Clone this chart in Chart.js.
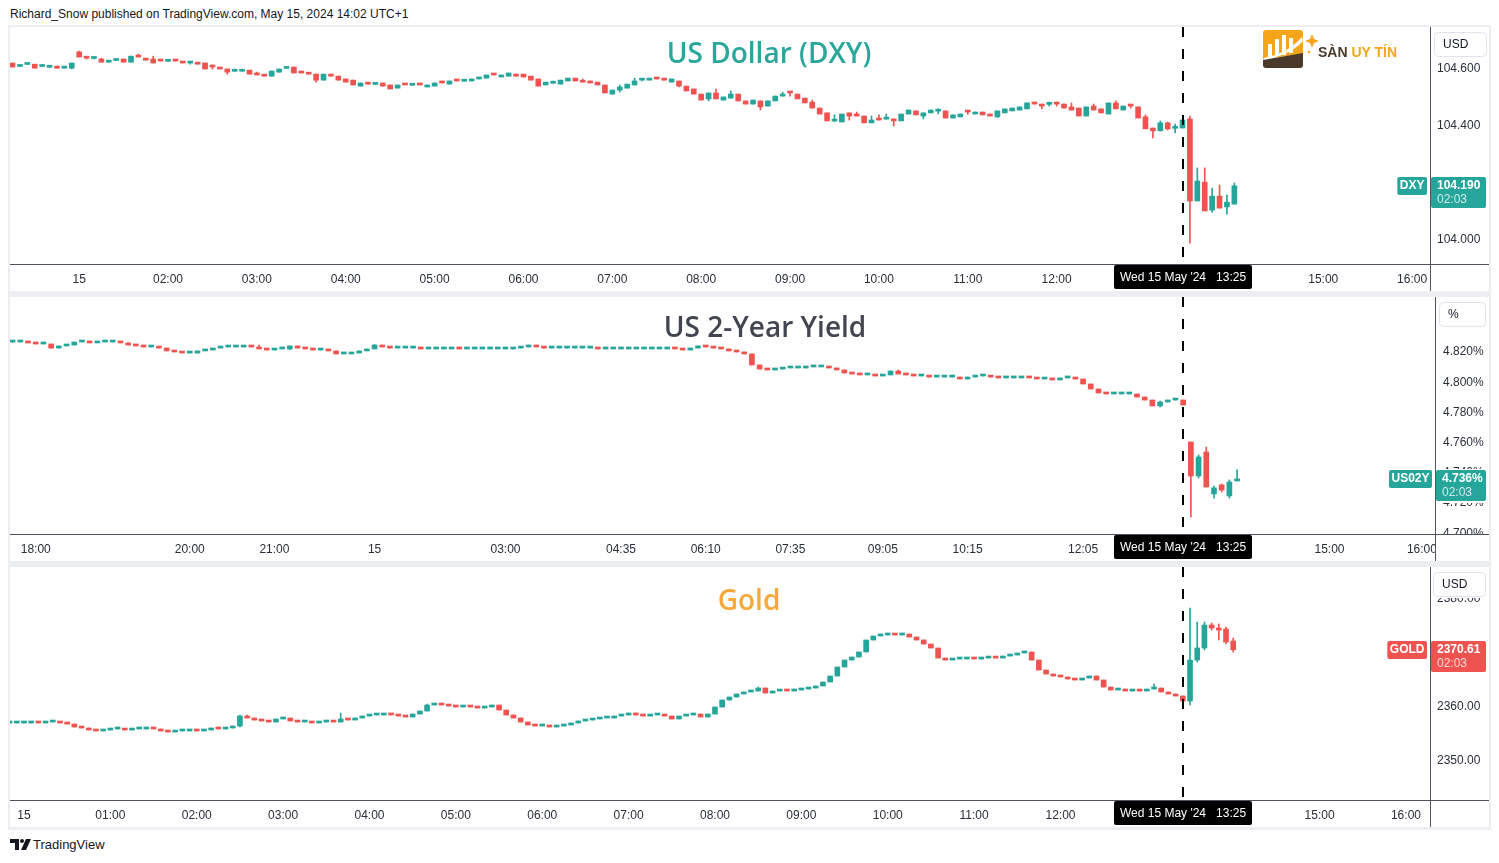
<!DOCTYPE html>
<html>
<head>
<meta charset="utf-8">
<script src="https://cdn.jsdelivr.net/npm/chart.js@4.4.1/dist/chart.umd.min.js"></script>
<style>
  html,body{margin:0;padding:0;background:#fff;}
  body{width:1499px;height:863px;position:relative;overflow:hidden;font-family:"Liberation Sans",Arial,sans-serif;}
  .abs{position:absolute;}
  canvas{position:absolute;background:#fff;}
  .title{position:absolute;transform:translate(-50%,-50%);font-family:"Open Sans",sans-serif;font-weight:600;font-size:28px;white-space:nowrap;line-height:1;}
</style>
</head>
<body>
<div class="abs" style="left:10px;top:7px;font-size:12px;line-height:14px;color:#131722;">Richard_Snow published on TradingView.com, May 15, 2024 14:02 UTC+1</div>
<div class="abs" style="left:8px;top:25px;width:1483px;height:805px;background:#eceef2;"></div>
<canvas id="c1" width="1479" height="264" style="left:10px;top:27px;"></canvas>
<canvas id="c2" width="1479" height="264" style="left:10px;top:297px;"></canvas>
<canvas id="c3" width="1479" height="260" style="left:10px;top:567px;"></canvas>

<div class="title" style="left:769px;top:52px;color:#2aa79b;">US Dollar (DXY)</div>
<div class="title" style="left:765px;top:326px;color:#434651;">US 2-Year Yield</div>
<div class="title" style="left:749px;top:599px;color:#f6a83b;">Gold</div>

<svg class="abs" style="left:1262px;top:29px" width="142" height="42" viewBox="0 0 142 42">
  <path d="M4 1H38a3 3 0 0 1 3 3V25L1 30V4a3 3 0 0 1 3-3z" fill="#f6a519"/>
  <rect x="6" y="15" width="4" height="13" fill="#fff"/>
  <rect x="13" y="10" width="4" height="17" fill="#fff"/>
  <rect x="20" y="6" width="4" height="20" fill="#fff"/>
  <rect x="27" y="9" width="4" height="15" fill="#fff"/>
  <path d="M2 29C14 26 28 22 40 8L41 12C30 24 16 28 2 31z" fill="#fff"/>
  <path d="M1 31L41 24V36a3 3 0 0 1-3 3H4a3 3 0 0 1-3-3z" fill="#4b3a2c"/>
  <path d="M50 5L52 10L57 12L52 14L50 19L48 14L43 12L48 10z" fill="#f6a519"/>
  <circle cx="47" cy="23" r="1.3" fill="#f6a519"/>
  <text x="56" y="28" font-family="Liberation Sans,Arial,sans-serif" font-weight="700" font-size="14" fill="#4b3a2c">SÀN <tspan fill="#f6a519">UY TÍN</tspan></text>
</svg>

<svg class="abs" style="left:10px;top:839px" width="22" height="12" viewBox="0 0 22 12">
  <path d="M0 0h9v11H5V4H0z" fill="#131722"/>
  <circle cx="12" cy="2" r="2" fill="#131722"/>
  <path d="M16 0h5l-5 11h-5z" fill="#131722"/>
</svg>
<div class="abs" style="left:33px;top:837px;font-size:13px;line-height:16px;color:#131722;">TradingView</div>

<script>
// ---------------- DATA ----------------
// 5-minute candles, [open, high, low, close]
const dxyFirstBar = "00:15";
const dxyCandles = [
 [104.621,104.621,104.607,104.607],[104.609,104.610,104.609,104.610],[104.616,104.617,104.616,104.617],[104.617,104.617,104.603,104.603],[104.609,104.610,104.609,104.610],[104.606,104.607,104.606,104.607],[104.610,104.610,104.603,104.603],[104.603,104.607,104.603,104.604],[104.603,104.621,104.600,104.621],[104.660,104.663,104.642,104.642],
 [104.642,104.642,104.635,104.638],[104.637,104.638,104.635,104.638],[104.635,104.638,104.624,104.624],[104.624,104.631,104.624,104.631],[104.630,104.631,104.630,104.631],[104.635,104.635,104.624,104.624],[104.624,104.645,104.624,104.645],[104.649,104.652,104.642,104.642],[104.638,104.638,104.631,104.631],[104.635,104.645,104.621,104.621],
 [104.629,104.629,104.628,104.628],[104.627,104.628,104.627,104.628],[104.629,104.629,104.628,104.628],[104.624,104.625,104.621,104.621],[104.621,104.624,104.617,104.624],[104.624,104.624,104.617,104.617],[104.621,104.621,104.600,104.600],[104.608,104.614,104.600,104.607],[104.603,104.603,104.600,104.600],[104.600,104.600,104.582,104.589],
 [104.592,104.600,104.592,104.593],[104.592,104.593,104.592,104.593],[104.596,104.596,104.582,104.582],[104.582,104.589,104.579,104.579],[104.579,104.579,104.575,104.575],[104.575,104.593,104.575,104.593],[104.589,104.600,104.589,104.600],[104.602,104.603,104.602,104.603],[104.607,104.607,104.586,104.586],[104.589,104.589,104.586,104.586],
 [104.586,104.586,104.582,104.582],[104.582,104.582,104.554,104.561],[104.561,104.582,104.561,104.582],[104.582,104.582,104.575,104.575],[104.575,104.575,104.561,104.561],[104.565,104.565,104.554,104.554],[104.561,104.561,104.544,104.544],[104.540,104.551,104.540,104.551],[104.548,104.548,104.547,104.547],[104.546,104.547,104.546,104.547],
 [104.551,104.551,104.540,104.540],[104.544,104.544,104.530,104.530],[104.533,104.544,104.533,104.544],[104.545,104.545,104.544,104.544],[104.543,104.544,104.543,104.544],[104.545,104.545,104.544,104.544],[104.537,104.544,104.537,104.544],[104.540,104.551,104.540,104.551],[104.552,104.558,104.551,104.551],[104.547,104.558,104.547,104.558],
 [104.559,104.559,104.558,104.558],[104.557,104.558,104.557,104.558],[104.558,104.565,104.558,104.565],[104.565,104.572,104.565,104.572],[104.568,104.579,104.568,104.579],[104.580,104.580,104.579,104.579],[104.572,104.579,104.572,104.579],[104.575,104.586,104.575,104.586],[104.582,104.582,104.575,104.575],[104.582,104.582,104.572,104.572],
 [104.575,104.575,104.561,104.561],[104.565,104.565,104.540,104.540],[104.544,104.554,104.544,104.554],[104.550,104.558,104.550,104.551],[104.547,104.561,104.547,104.561],[104.558,104.568,104.558,104.568],[104.568,104.568,104.558,104.558],[104.558,104.565,104.554,104.554],[104.558,104.558,104.551,104.551],[104.554,104.554,104.544,104.544],
 [104.544,104.544,104.516,104.516],[104.512,104.526,104.512,104.526],[104.526,104.544,104.519,104.537],[104.533,104.547,104.533,104.547],[104.544,104.568,104.544,104.558],[104.561,104.565,104.558,104.562],[104.561,104.568,104.561,104.562],[104.566,104.566,104.565,104.565],[104.562,104.568,104.561,104.561],[104.554,104.565,104.554,104.565],
 [104.558,104.558,104.537,104.540],[104.540,104.540,104.523,104.523],[104.530,104.530,104.512,104.512],[104.512,104.512,104.491,104.491],[104.495,104.516,104.488,104.516],[104.516,104.530,104.495,104.495],[104.491,104.502,104.491,104.502],[104.498,104.523,104.498,104.512],[104.512,104.512,104.488,104.488],[104.488,104.488,104.477,104.477],
 [104.477,104.491,104.477,104.491],[104.488,104.488,104.456,104.467],[104.470,104.488,104.470,104.488],[104.488,104.505,104.488,104.505],[104.505,104.519,104.505,104.512],[104.517,104.519,104.505,104.516],[104.512,104.512,104.495,104.495],[104.498,104.498,104.481,104.481],[104.484,104.491,104.463,104.463],[104.463,104.463,104.442,104.442],
 [104.446,104.446,104.418,104.418],[104.417,104.439,104.417,104.418],[104.414,104.442,104.414,104.442],[104.446,104.446,104.421,104.435],[104.436,104.449,104.435,104.435],[104.435,104.435,104.411,104.411],[104.411,104.435,104.411,104.421],[104.422,104.439,104.421,104.421],[104.424,104.442,104.424,104.425],[104.425,104.425,104.400,104.418],
 [104.418,104.442,104.418,104.442],[104.442,104.456,104.442,104.456],[104.453,104.453,104.439,104.439],[104.435,104.446,104.425,104.446],[104.446,104.456,104.446,104.456],[104.452,104.460,104.442,104.453],[104.453,104.453,104.428,104.428],[104.428,104.439,104.428,104.439],[104.432,104.442,104.432,104.442],[104.450,104.450,104.441,104.449],
 [104.442,104.449,104.442,104.449],[104.449,104.449,104.439,104.439],[104.436,104.442,104.435,104.435],[104.432,104.453,104.430,104.453],[104.446,104.460,104.446,104.460],[104.453,104.463,104.453,104.463],[104.456,104.467,104.456,104.467],[104.460,104.481,104.460,104.481],[104.484,104.484,104.477,104.477],[104.477,104.477,104.460,104.470],
 [104.476,104.484,104.470,104.477],[104.478,104.484,104.470,104.477],[104.477,104.477,104.463,104.463],[104.467,104.481,104.456,104.456],[104.463,104.463,104.435,104.435],[104.435,104.467,104.435,104.467],[104.470,104.477,104.456,104.456],[104.460,104.460,104.446,104.446],[104.442,104.481,104.442,104.481],[104.481,104.488,104.460,104.460],
 [104.456,104.470,104.456,104.470],[104.471,104.477,104.463,104.470],[104.467,104.467,104.428,104.428],[104.432,104.439,104.390,104.390],[104.393,104.393,104.358,104.383],[104.383,104.418,104.383,104.411],[104.411,104.414,104.386,104.390],[104.392,104.407,104.376,104.393],[104.393,104.421,104.393,104.421],[104.425,104.435,103.989,104.137],
 [104.137,104.253,104.137,104.207],[104.203,104.253,104.102,104.102],[104.105,104.182,104.098,104.154],[104.154,104.193,104.112,104.112],[104.116,104.158,104.091,104.133],[104.126,104.200,104.126,104.190]
];
const dxyTickTimes  = ["01:00","02:00","03:00","04:00","05:00","06:00","07:00","08:00","09:00","10:00","11:00","12:00","15:00","16:00"];
const dxyTickLabels = ["15","02:00","03:00","04:00","05:00","06:00","07:00","08:00","09:00","10:00","11:00","12:00","15:00","16:00"];
const dxyPriceTicks = [104.0, 104.2, 104.4, 104.6];

// US 2-year yield (%), bars on a session-compressed axis (bar index)
const us2yCandles = [
 [4.8266,4.8270,4.8263,4.8266],[4.8266,4.8266,4.8266,4.8266],[4.8266,4.8266,4.8260,4.8260],[4.8260,4.8260,4.8253,4.8253],[4.8253,4.8253,4.8253,4.8253],[4.8253,4.8253,4.8226,4.8226],[4.8226,4.8240,4.8226,4.8240],[4.8240,4.8246,4.8240,4.8246],[4.8246,4.8266,4.8246,4.8266],[4.8266,4.8266,4.8266,4.8266],
 [4.8266,4.8266,4.8260,4.8260],[4.8260,4.8266,4.8260,4.8266],[4.8266,4.8266,4.8266,4.8266],[4.8266,4.8266,4.8266,4.8266],[4.8266,4.8266,4.8260,4.8260],[4.8260,4.8260,4.8246,4.8246],[4.8246,4.8246,4.8240,4.8240],[4.8240,4.8240,4.8233,4.8233],[4.8233,4.8233,4.8233,4.8233],[4.8233,4.8233,4.8226,4.8226],
 [4.8226,4.8226,4.8207,4.8207],[4.8207,4.8207,4.8200,4.8200],[4.8200,4.8200,4.8193,4.8193],[4.8193,4.8193,4.8193,4.8193],[4.8193,4.8207,4.8193,4.8207],[4.8207,4.8213,4.8207,4.8213],[4.8213,4.8226,4.8213,4.8226],[4.8226,4.8233,4.8226,4.8233],[4.8233,4.8233,4.8233,4.8233],[4.8233,4.8233,4.8233,4.8233],
 [4.8233,4.8240,4.8233,4.8240],[4.8240,4.8240,4.8233,4.8233],[4.8233,4.8246,4.8220,4.8220],[4.8220,4.8220,4.8213,4.8213],[4.8213,4.8220,4.8213,4.8220],[4.8220,4.8220,4.8220,4.8220],[4.8220,4.8240,4.8216,4.8240],[4.8240,4.8240,4.8226,4.8226],[4.8226,4.8226,4.8220,4.8220],[4.8220,4.8220,4.8213,4.8213],
 [4.8213,4.8213,4.8213,4.8213],[4.8213,4.8213,4.8207,4.8207],[4.8207,4.8207,4.8187,4.8187],[4.8187,4.8187,4.8187,4.8187],[4.8187,4.8193,4.8187,4.8193],[4.8193,4.8207,4.8193,4.8207],[4.8207,4.8220,4.8207,4.8220],[4.8220,4.8250,4.8220,4.8246],[4.8246,4.8246,4.8233,4.8233],[4.8233,4.8233,4.8226,4.8226],
 [4.8226,4.8226,4.8226,4.8226],[4.8226,4.8226,4.8226,4.8226],[4.8226,4.8226,4.8226,4.8226],[4.8226,4.8226,4.8220,4.8220],[4.8220,4.8220,4.8220,4.8220],[4.8220,4.8220,4.8220,4.8220],[4.8220,4.8220,4.8220,4.8220],[4.8220,4.8226,4.8220,4.8226],[4.8226,4.8226,4.8220,4.8220],[4.8220,4.8220,4.8220,4.8220],
 [4.8220,4.8220,4.8220,4.8220],[4.8220,4.8220,4.8220,4.8220],[4.8220,4.8220,4.8220,4.8220],[4.8220,4.8220,4.8220,4.8220],[4.8220,4.8220,4.8220,4.8220],[4.8220,4.8226,4.8220,4.8226],[4.8226,4.8233,4.8226,4.8233],[4.8233,4.8246,4.8233,4.8246],[4.8246,4.8246,4.8233,4.8233],[4.8233,4.8233,4.8226,4.8226],
 [4.8226,4.8226,4.8226,4.8226],[4.8226,4.8226,4.8226,4.8226],[4.8226,4.8226,4.8226,4.8226],[4.8226,4.8226,4.8226,4.8226],[4.8226,4.8226,4.8226,4.8226],[4.8226,4.8226,4.8226,4.8226],[4.8226,4.8226,4.8220,4.8220],[4.8220,4.8220,4.8220,4.8220],[4.8220,4.8220,4.8220,4.8220],[4.8220,4.8220,4.8220,4.8220],
 [4.8220,4.8220,4.8220,4.8220],[4.8220,4.8220,4.8220,4.8220],[4.8220,4.8220,4.8220,4.8220],[4.8220,4.8220,4.8220,4.8220],[4.8220,4.8220,4.8220,4.8220],[4.8220,4.8226,4.8220,4.8226],[4.8226,4.8226,4.8220,4.8220],[4.8220,4.8220,4.8213,4.8213],[4.8213,4.8226,4.8213,4.8226],[4.8226,4.8240,4.8226,4.8240],
 [4.8240,4.8240,4.8233,4.8233],[4.8233,4.8233,4.8226,4.8226],[4.8226,4.8226,4.8220,4.8220],[4.8220,4.8220,4.8207,4.8207],[4.8207,4.8207,4.8200,4.8200],[4.8200,4.8200,4.8187,4.8187],[4.8187,4.8187,4.8114,4.8114],[4.8114,4.8114,4.8087,4.8087],[4.8087,4.8087,4.8081,4.8081],[4.8081,4.8087,4.8081,4.8087],
 [4.8087,4.8094,4.8087,4.8094],[4.8094,4.8094,4.8094,4.8094],[4.8094,4.8094,4.8094,4.8094],[4.8094,4.8101,4.8094,4.8101],[4.8101,4.8101,4.8101,4.8101],[4.8101,4.8101,4.8101,4.8101],[4.8101,4.8101,4.8094,4.8094],[4.8094,4.8094,4.8081,4.8081],[4.8081,4.8081,4.8061,4.8061],[4.8061,4.8061,4.8054,4.8054],
 [4.8054,4.8054,4.8048,4.8048],[4.8048,4.8048,4.8048,4.8048],[4.8048,4.8048,4.8041,4.8041],[4.8041,4.8048,4.8041,4.8048],[4.8048,4.8074,4.8048,4.8074],[4.8074,4.8081,4.8054,4.8054],[4.8054,4.8054,4.8048,4.8048],[4.8048,4.8048,4.8041,4.8041],[4.8041,4.8041,4.8041,4.8041],[4.8041,4.8041,4.8034,4.8034],
 [4.8034,4.8034,4.8034,4.8034],[4.8034,4.8034,4.8034,4.8034],[4.8034,4.8034,4.8034,4.8034],[4.8034,4.8034,4.8021,4.8021],[4.8021,4.8034,4.8021,4.8034],[4.8034,4.8041,4.8034,4.8041],[4.8041,4.8041,4.8041,4.8041],[4.8041,4.8041,4.8034,4.8034],[4.8034,4.8034,4.8028,4.8028],[4.8028,4.8028,4.8028,4.8028],
 [4.8028,4.8028,4.8028,4.8028],[4.8028,4.8034,4.8028,4.8034],[4.8034,4.8034,4.8028,4.8028],[4.8028,4.8028,4.8021,4.8021],[4.8021,4.8021,4.8021,4.8021],[4.8021,4.8021,4.8015,4.8015],[4.8015,4.8028,4.8015,4.8028],[4.8028,4.8028,4.8028,4.8028],[4.8028,4.8028,4.8021,4.8021],[4.8021,4.8021,4.7988,4.7988],
 [4.7988,4.7988,4.7955,4.7955],[4.7955,4.7955,4.7929,4.7929],[4.7929,4.7929,4.7922,4.7922],[4.7922,4.7922,4.7922,4.7922],[4.7922,4.7922,4.7922,4.7922],[4.7922,4.7922,4.7922,4.7922],[4.7922,4.7922,4.7902,4.7902],[4.7902,4.7902,4.7882,4.7882],[4.7882,4.7882,4.7843,4.7843],[4.7843,4.7875,4.7836,4.7869],
 [4.7869,4.7882,4.7869,4.7882],[4.7882,4.7882,4.7882,4.7882],[4.7882,4.7882,4.7849,4.7849],[4.7604,4.7604,4.7108,4.7379],[4.7379,4.7518,4.7366,4.7505],[4.7538,4.7571,4.7306,4.7306],[4.7260,4.7313,4.7233,4.7300],[4.7320,4.7326,4.7273,4.7286],[4.7247,4.7353,4.7233,4.7339],[4.7346,4.7419,4.7346,4.7360]
];
const us2yTickBars   = [3, 23, 34, 47, 64, 79, 90, 101, 113, 124, 139, 171, 183];
const us2yTickLabels = ["18:00","20:00","21:00","15","03:00","04:35","06:10","07:35","09:05","10:15","12:05","15:00","16:00"];
const us2yPriceTicks = [4.70, 4.72, 4.74, 4.76, 4.78, 4.80, 4.82];
const us2yCrossBar = 152;

const goldFirstBar = "-00:10"; // 23:50 on 14 May
const goldCandles = [
 [2357.04,2357.22,2356.85,2357.04],[2357.04,2357.04,2357.04,2357.04],[2357.04,2357.13,2357.04,2357.04],[2357.04,2357.22,2357.04,2357.22],[2357.22,2357.22,2357.04,2357.04],[2357.04,2357.22,2357.04,2357.22],[2357.22,2357.30,2357.22,2357.22],[2357.22,2357.22,2357.04,2357.04],[2357.04,2357.04,2356.85,2356.85],[2356.85,2356.85,2356.30,2356.30],
 [2356.30,2356.30,2356.11,2356.11],[2356.11,2356.11,2355.74,2355.74],[2355.74,2355.74,2355.56,2355.56],[2355.56,2355.74,2355.56,2355.74],[2355.74,2355.93,2355.74,2355.93],[2355.93,2356.00,2355.93,2355.93],[2355.93,2355.93,2355.74,2355.74],[2355.74,2355.93,2355.74,2355.93],[2355.93,2355.93,2355.93,2355.93],[2355.93,2356.11,2355.93,2356.11],
 [2356.11,2356.11,2355.93,2355.93],[2355.93,2355.93,2355.56,2355.56],[2355.56,2355.56,2355.37,2355.37],[2355.37,2355.56,2355.37,2355.56],[2355.56,2355.56,2355.56,2355.56],[2355.56,2355.74,2355.56,2355.74],[2355.74,2355.74,2355.56,2355.56],[2355.56,2355.74,2355.56,2355.74],[2355.74,2356.11,2355.74,2356.11],[2356.11,2356.11,2355.93,2355.93],
 [2355.93,2356.11,2355.93,2356.11],[2356.11,2356.48,2356.11,2356.48],[2356.48,2358.52,2356.30,2358.33],[2358.33,2358.52,2357.96,2357.96],[2357.96,2357.96,2357.59,2357.59],[2357.59,2357.59,2357.41,2357.41],[2357.41,2357.41,2357.22,2357.22],[2357.22,2357.78,2357.22,2357.78],[2357.78,2357.96,2357.78,2357.96],[2357.96,2357.96,2357.41,2357.41],
 [2357.41,2357.41,2357.22,2357.22],[2357.22,2357.30,2357.22,2357.22],[2357.22,2357.22,2357.04,2357.04],[2357.04,2357.22,2357.04,2357.22],[2357.22,2357.41,2357.22,2357.41],[2357.41,2357.41,2357.22,2357.22],[2357.22,2358.89,2357.22,2357.78],[2357.78,2357.78,2357.59,2357.59],[2357.59,2357.96,2357.59,2357.96],[2357.96,2358.33,2357.96,2358.33],
 [2358.33,2358.52,2358.33,2358.52],[2358.52,2358.61,2358.52,2358.52],[2358.52,2358.70,2358.52,2358.70],[2358.70,2358.70,2358.52,2358.52],[2358.52,2358.52,2358.33,2358.33],[2358.33,2358.33,2358.15,2358.15],[2358.15,2358.70,2358.15,2358.70],[2358.70,2359.26,2358.70,2359.26],[2359.26,2360.56,2359.26,2360.37],[2360.37,2360.56,2360.37,2360.56],
 [2360.56,2360.56,2360.37,2360.37],[2360.37,2360.37,2360.19,2360.19],[2360.19,2360.19,2360.00,2360.00],[2360.00,2360.19,2360.00,2360.19],[2360.19,2360.19,2360.00,2360.00],[2360.00,2360.00,2359.81,2359.81],[2359.81,2360.00,2359.81,2360.00],[2360.00,2360.37,2360.00,2360.37],[2360.37,2360.37,2359.44,2359.44],[2359.44,2359.44,2358.52,2358.52],
 [2358.52,2358.52,2357.96,2357.96],[2357.96,2357.96,2357.22,2357.22],[2357.22,2357.22,2356.67,2356.67],[2356.67,2356.67,2356.48,2356.48],[2356.48,2356.67,2356.48,2356.48],[2356.48,2356.48,2356.30,2356.30],[2356.30,2356.48,2356.30,2356.48],[2356.48,2356.67,2356.48,2356.67],[2356.67,2357.04,2356.67,2357.04],[2357.04,2357.41,2357.04,2357.41],
 [2357.41,2357.59,2357.41,2357.59],[2357.59,2357.78,2357.59,2357.78],[2357.78,2357.96,2357.78,2357.96],[2357.96,2358.15,2357.96,2357.96],[2357.96,2358.33,2357.96,2358.33],[2358.33,2358.52,2358.33,2358.52],[2358.52,2358.89,2358.52,2358.89],[2358.89,2358.89,2358.52,2358.52],[2358.52,2358.52,2358.33,2358.33],[2358.33,2358.52,2358.33,2358.52],
 [2358.52,2358.70,2358.52,2358.52],[2358.52,2358.52,2358.33,2358.33],[2358.33,2358.33,2357.78,2357.78],[2357.78,2358.33,2357.78,2358.33],[2358.33,2358.52,2358.33,2358.52],[2358.52,2358.70,2358.52,2358.70],[2358.70,2358.70,2358.15,2358.15],[2358.15,2358.70,2358.15,2358.70],[2358.70,2360.00,2358.70,2360.00],[2360.00,2361.30,2360.00,2361.30],
 [2361.30,2361.85,2361.30,2361.85],[2361.85,2362.41,2361.85,2362.41],[2362.41,2362.78,2362.41,2362.78],[2362.78,2362.96,2362.78,2362.96],[2362.96,2363.70,2362.96,2363.52],[2363.52,2363.52,2362.59,2362.59],[2362.59,2362.96,2362.59,2362.96],[2362.96,2363.15,2362.96,2363.15],[2363.15,2363.15,2362.96,2362.96],[2362.96,2363.33,2362.96,2363.15],
 [2363.15,2363.33,2363.15,2363.33],[2363.33,2363.52,2363.33,2363.52],[2363.52,2363.89,2363.52,2363.89],[2363.89,2364.63,2363.89,2364.63],[2364.63,2365.74,2364.63,2365.74],[2365.74,2367.41,2365.74,2367.41],[2367.41,2368.70,2367.41,2368.70],[2368.70,2369.26,2368.70,2369.26],[2369.26,2370.19,2369.26,2370.19],[2370.19,2372.41,2370.19,2372.41],
 [2372.41,2373.15,2372.41,2373.15],[2373.15,2373.52,2373.15,2373.33],[2373.33,2373.70,2373.33,2373.52],[2373.52,2373.52,2373.33,2373.33],[2373.33,2373.70,2373.33,2373.52],[2373.52,2373.52,2372.96,2372.96],[2372.96,2372.96,2372.41,2372.41],[2372.41,2372.41,2371.67,2371.67],[2371.67,2371.67,2370.93,2370.93],[2370.93,2370.93,2369.07,2369.07],
 [2369.07,2369.07,2368.70,2368.70],[2368.70,2368.89,2368.70,2368.89],[2368.89,2368.89,2368.89,2368.89],[2368.89,2369.07,2368.89,2369.07],[2369.07,2369.07,2368.89,2368.89],[2368.89,2369.07,2368.89,2369.07],[2369.07,2369.26,2369.07,2369.26],[2369.26,2369.26,2369.07,2369.07],[2369.07,2369.44,2369.07,2369.44],[2369.44,2369.63,2369.44,2369.63],
 [2369.63,2370.00,2369.63,2370.00],[2370.00,2370.37,2370.00,2370.19],[2370.19,2370.19,2368.70,2368.70],[2368.70,2368.70,2366.85,2366.85],[2366.85,2366.85,2366.11,2366.11],[2366.11,2366.11,2365.74,2365.74],[2365.74,2365.74,2365.56,2365.56],[2365.56,2365.56,2365.19,2365.19],[2365.19,2365.19,2365.00,2365.00],[2365.00,2365.37,2365.00,2365.37],
 [2365.37,2365.74,2365.37,2365.74],[2365.74,2365.74,2365.00,2365.00],[2365.00,2365.00,2363.70,2363.70],[2363.70,2363.70,2363.15,2363.15],[2363.15,2363.33,2363.15,2363.33],[2363.33,2363.33,2362.96,2362.96],[2362.96,2363.15,2362.96,2363.15],[2363.15,2363.15,2362.96,2362.96],[2362.96,2363.33,2362.96,2363.33],[2363.33,2364.26,2363.33,2363.52],
 [2363.52,2363.52,2362.78,2362.78],[2362.78,2362.78,2362.41,2362.41],[2362.41,2362.41,2362.04,2362.04],[2362.04,2362.04,2359.81,2361.11],[2361.11,2378.33,2360.37,2368.70],[2368.70,2375.74,2368.33,2370.93],[2370.93,2375.74,2370.56,2375.19],[2375.19,2375.56,2374.26,2374.63],[2374.63,2375.37,2372.41,2374.26],[2374.44,2374.81,2371.67,2372.04],
 [2372.22,2372.78,2370.19,2370.61]
];
const goldTickTimes  = ["00:00","01:00","02:00","03:00","04:00","05:00","06:00","07:00","08:00","09:00","10:00","11:00","12:00","15:00","16:00"];
const goldTickLabels = ["15","01:00","02:00","03:00","04:00","05:00","06:00","07:00","08:00","09:00","10:00","11:00","12:00","15:00","16:00"];
const goldPriceTicks = [2350, 2360, 2370, 2380];

const crossTime  = "13:25";
const crossLabel = "Wed 15 May '24   13:25";
const lastBarTimer = "02:03";

// ---------------- RENDER ----------------
const UP = '#26a69a', DOWN = '#ef5350';
const FONT = '"Liberation Sans", Arial, sans-serif';
const TXT = '#2a2e39';
const BAR_MIN = 5;

function toMin(s){ const neg = s[0] === '-'; const p = s.replace('-','').split(':').map(Number); return (neg ? -1 : 1) * (p[0]*60 + p[1]); }

function rrect(ctx, x, y, w, h, r){
  ctx.beginPath();
  ctx.moveTo(x+r, y); ctx.lineTo(x+w-r, y); ctx.quadraticCurveTo(x+w, y, x+w, y+r);
  ctx.lineTo(x+w, y+h-r); ctx.quadraticCurveTo(x+w, y+h, x+w-r, y+h);
  ctx.lineTo(x+r, y+h); ctx.quadraticCurveTo(x, y+h, x, y+h-r);
  ctx.lineTo(x, y+r); ctx.quadraticCurveTo(x, y, x+r, y); ctx.closePath();
}

function overlay(o){
  return { id: 'ov', afterDraw(chart){
    const {ctx, chartArea: a, scales: {x, y}} = chart;
    const W = chart.width, H = chart.height;
    const last = o.candles[o.candles.length-1][3];
    const col = last >= o.candles[o.candles.length-1][0] ? UP : DOWN;
    ctx.save();
    // clip price labels out of the time-axis row
    ctx.fillStyle = '#fff';
    ctx.fillRect(a.right, a.bottom, W - a.right, H - a.bottom);
    // axis lines
    ctx.fillStyle = '#50535e';
    ctx.fillRect(0, a.bottom, W, 1);
    ctx.fillRect(a.right, 0, 1, H);
    // vertical dashed marker
    const cx = Math.round(x.getPixelForValue(o.cross));
    ctx.strokeStyle = '#000'; ctx.lineWidth = 2; ctx.setLineDash([10, 12]);
    ctx.beginPath(); ctx.moveTo(cx, a.top); ctx.lineTo(cx, a.bottom); ctx.stroke();
    ctx.setLineDash([]);
    // crosshair time label
    ctx.fillStyle = '#000';
    rrect(ctx, cx - 69, a.bottom + 1, 138, 24, 2); ctx.fill();
    ctx.fillStyle = '#fff'; ctx.font = '12px ' + FONT; ctx.textAlign = 'center'; ctx.textBaseline = 'middle';
    ctx.fillText(crossLabel, cx, a.bottom + 14);
    // currency box
    ctx.fillStyle = '#fff';
    ctx.fillRect(a.right + 1, 0, W - a.right - 1, 31);
    rrect(ctx, a.right + o.boxOff + 0.5, 5.5, o.boxW, 24, 4);
    ctx.fill(); ctx.strokeStyle = '#e0e3eb'; ctx.lineWidth = 1; ctx.stroke();
    ctx.fillStyle = '#131722'; ctx.textAlign = 'left';
    ctx.fillText(o.unit, a.right + o.boxOff + 9, 18);
    // last price label
    const yv = Math.round(y.getPixelForValue(last));
    const bx = a.right + 1, bw = W - 3 - bx;
    ctx.fillStyle = '#fff';
    ctx.fillRect(bx, yv - 10, W - bx, 34);
    ctx.fillStyle = col;
    rrect(ctx, bx, yv - 9, bw, 31, 2); ctx.fill();
    ctx.fillStyle = '#fff'; ctx.font = 'bold 12px ' + FONT; ctx.textAlign = 'left';
    ctx.fillText(o.yFmt(last), bx + 6, yv);
    ctx.fillStyle = 'rgba(255,255,255,0.78)'; ctx.font = '12px ' + FONT;
    ctx.fillText(lastBarTimer, bx + 6, yv + 14);
    // symbol tag
    ctx.font = 'bold 12px ' + FONT;
    const tw = ctx.measureText(o.name).width + 5;
    ctx.fillStyle = col;
    rrect(ctx, a.right - 3 - tw, yv - 9, tw, 18, 2); ctx.fill();
    ctx.fillStyle = '#fff'; ctx.textAlign = 'center';
    ctx.fillText(o.name, a.right - 3 - tw/2, yv);
    ctx.restore();
  }};
}

function makePanel(id, o){
  const xs = o.candles.map((c, i) => o.xOf(i));
  const colors = o.candles.map(c => c[3] >= c[0] ? UP : DOWN);
  const bodies = o.candles.map((c, i) => ({x: xs[i], y: [Math.min(c[0], c[3]), Math.max(c[0], c[3])]}));
  const wicks  = o.candles.map((c, i) => ({x: xs[i], y: [c[2], c[1]]}));
  new Chart(document.getElementById(id), {
    type: 'bar',
    data: { datasets: [
      { data: bodies, backgroundColor: colors, barThickness: BAR_MIN, minBarLength: 2, grouped: false, borderWidth: 0 },
      { data: wicks,  backgroundColor: colors, barThickness: 1, grouped: false, borderWidth: 0 }
    ]},
    options: {
      responsive: false, animation: false, devicePixelRatio: 1,
      layout: { padding: 0 },
      events: [],
      plugins: { legend: { display: false }, tooltip: { enabled: false } },
      scales: {
        x: {
          type: 'linear', offset: false, min: o.xMin, max: o.xMax,
          grid: { display: false, drawTicks: false }, border: { display: false },
          afterBuildTicks: s => { s.ticks = o.xTicks.map(v => ({ value: v })); },
          afterFit: s => { s.height = 27; s.paddingLeft = 0; s.paddingRight = 0; },
          ticks: { autoSkip: false, maxRotation: 0, minRotation: 0, padding: 8, color: TXT,
                   font: { family: FONT, size: 12 }, callback: (v, i) => o.xLabels[i] }
        },
        y: {
          position: 'right', min: o.yMin, max: o.yMax,
          grid: { display: false, drawTicks: false }, border: { display: false },
          afterBuildTicks: s => { s.ticks = o.yTicks.map(v => ({ value: v })); },
          afterFit: s => { s.width = o.axisW; s.paddingTop = 0; s.paddingBottom = 0; },
          ticks: { padding: o.yPad, color: TXT, font: { family: FONT, size: 12 }, callback: v => o.yFmt(v) }
        }
      }
    },
    plugins: [overlay(o)]
  });
}

const dxyStart = toMin(dxyFirstBar), goldStart = toMin(goldFirstBar);

makePanel('c1', {
  candles: dxyCandles, xOf: i => dxyStart + 5*i,
  xMin: 13.3, xMax: 972.1,
  xTicks: dxyTickTimes.map(toMin), xLabels: dxyTickLabels,
  yMin: 103.9158, yMax: 104.7474, yTicks: dxyPriceTicks, yFmt: v => v.toFixed(3),
  axisW: 59, yPad: 7, cross: toMin(crossTime), unit: 'USD', boxOff: 4, boxW: 52, name: 'DXY'
});
makePanel('c2', {
  candles: us2yCandles, xOf: i => i,
  xMin: -0.34, xMax: 184.7,
  xTicks: us2yTickBars, xLabels: us2yTickLabels,
  yMin: 4.6995, yMax: 4.8564, yTicks: us2yPriceTicks, yFmt: v => v.toFixed(3) + '%',
  axisW: 54, yPad: 8, cross: us2yCrossBar, unit: '%', boxOff: 4, boxW: 46, name: 'US02Y'
});
makePanel('c3', {
  candles: goldCandles, xOf: i => goldStart + 5*i,
  xMin: -9.72, xMax: 976.7,
  xTicks: goldTickTimes.map(toMin), xLabels: goldTickLabels,
  yMin: 2342.78, yMax: 2385.93, yTicks: goldPriceTicks, yFmt: v => v.toFixed(2),
  axisW: 59, yPad: 7, cross: toMin(crossTime), unit: 'USD', boxOff: 3, boxW: 52, name: 'GOLD'
});
</script>
</body>
</html>
